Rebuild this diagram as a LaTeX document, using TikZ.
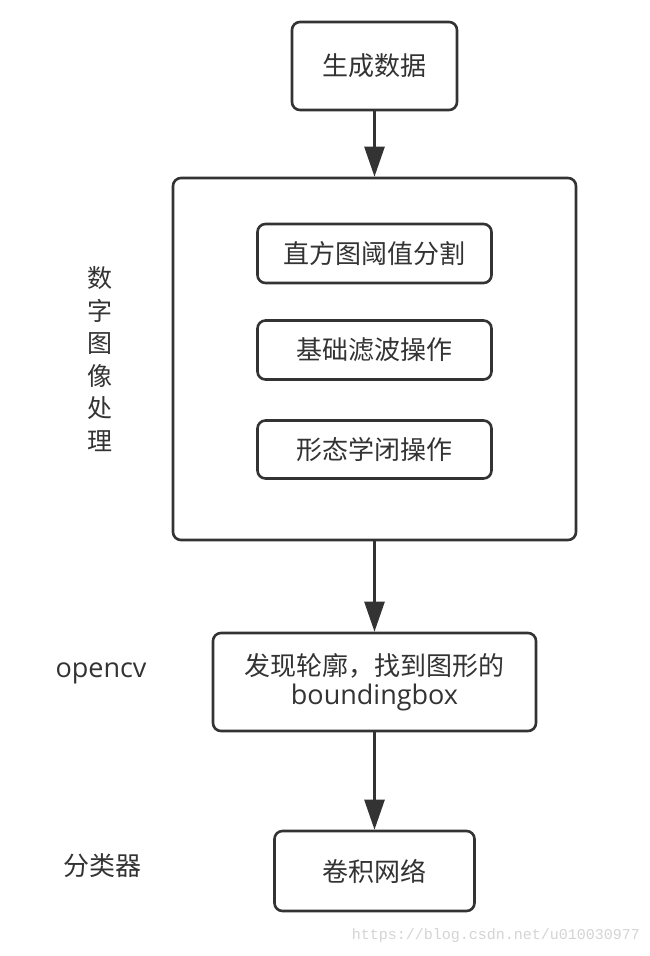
\documentclass[tikz,border=0pt]{standalone}
\usepackage{fontspec}
\setmainfont{Noto Sans CJK SC}
\newfontfamily\latinfont{Open Sans}
\newfontfamily\wmfont{Liberation Mono}
\usetikzlibrary{arrows.meta}
\definecolor{ink}{HTML}{333333}
\definecolor{wm}{HTML}{D4D4D4}
\begin{document}
\begin{tikzpicture}[x=1pt,y=-1pt,
  box/.style={draw=ink,line width=2.6pt,rounded corners=8pt,text=ink,inner sep=0pt,
    font=\fontsize{26}{30}\selectfont,align=center},
  lbl/.style={text=ink,inner sep=0pt,font=\fontsize{25}{32.5}\selectfont,align=center},
  conn/.style={draw=ink,line width=2.6pt,-{Triangle[length=30pt,width=20pt]}}]
\useasboundingbox[fill=white] (0,0) rectangle (650,956);
\node[box,minimum width=165pt,minimum height=88pt] (gen) at (374.5,66) {生成数据};
\node[box,minimum width=403pt,minimum height=362pt] (dip) at (374.5,359) {};
\node[box,minimum width=234pt,minimum height=59pt] (hist) at (374.5,253.5) {直方图阈值分割};
\node[box,minimum width=234pt,minimum height=59pt] (filt) at (374.5,350) {基础滤波操作};
\node[box,minimum width=234pt,minimum height=58pt] (morph) at (374.5,449.5) {形态学闭操作};
\node[box,minimum width=323pt,minimum height=98pt] (cont) at (374.5,682) {发现轮廓，找到图形的\\[-1pt]{\latinfont\fontsize{27}{30}\selectfont boundingbox}};
\node[box,minimum width=200pt,minimum height=80pt] (cnn) at (374.5,871) {卷积网络};
\node[lbl] (ldip) at (100,359) {数\\字\\图\\像\\处\\理};
\node[lbl,font=\latinfont\fontsize{27}{30}\selectfont] (lcv) at (101,673) {opencv};
\node[lbl,font=\fontsize{26}{30}\selectfont] (lcls) at (102,866) {分类器};
\node[text=wm,inner sep=0pt,font=\wmfont\fontsize{15}{15}\selectfont,anchor=east] (wmk) at (640,936) {https://blog.csdn.net/u010030977};
\draw[conn] (gen.south) -- (dip.north);
\draw[conn] (dip.south) -- (cont.north);
\draw[conn] (cont.south) -- (cnn.north);
\end{tikzpicture}
\end{document}
